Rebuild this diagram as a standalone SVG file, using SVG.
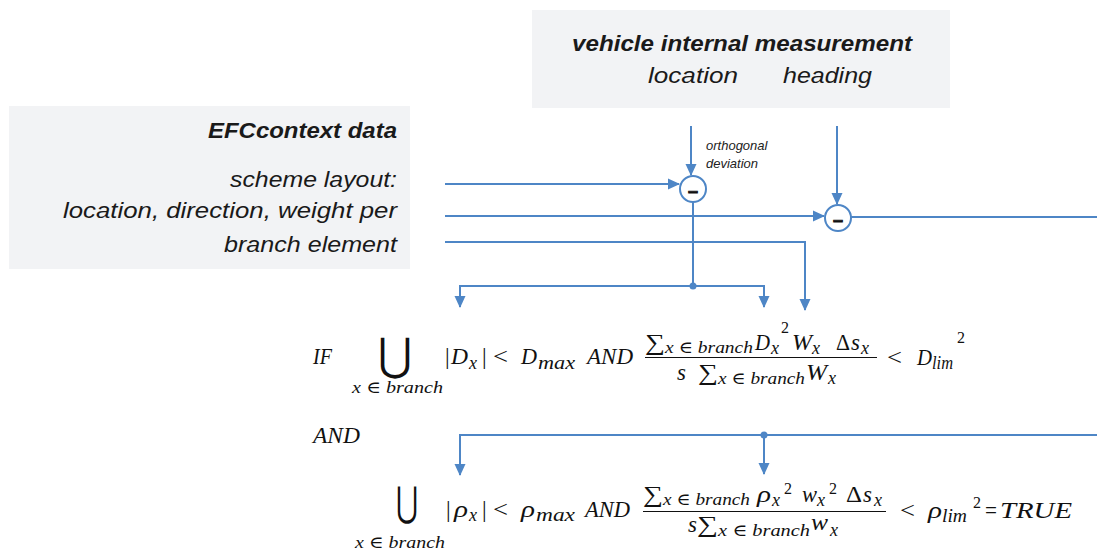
<svg xmlns="http://www.w3.org/2000/svg" width="1097" height="552" viewBox="0 0 1097 552">
  <style>
    .box { fill: #f2f3f5; stroke: none; }
    .lbl { font-family: "Liberation Sans", Arial, sans-serif; font-style: italic; fill: #1a1a1a; }
    .lbl-b { font-weight: bold; }
    .note { font-family: "Liberation Sans", Arial, sans-serif; font-style: italic; font-size: 13px; fill: #222; }
    .wire { fill: none; stroke: #4e86c6; stroke-width: 2; }
    .arr { marker-end: url(#head); }
    .node { fill: #ffffff; stroke: #4e86c6; stroke-width: 2; }
    .dot { fill: #4e86c6; }
    .minus { font-family: "Liberation Sans", Arial, sans-serif; font-weight: bold; font-size: 18px; fill: #111; stroke: #111; stroke-width: 0.9; text-anchor: middle; }
    .m { font-family: "Liberation Serif", "DejaVu Serif", serif; font-style: italic; font-size: 23px; fill: #111; }
    .s { font-size: 17px; }
    .t { font-size: 18px; }
    .p { font-size: 16px; }
    .up { font-style: normal; }
    .big { font-family: "DejaVu Serif", "DejaVu Sans", serif; font-style: normal; fill: #111; }
  </style>
  <defs>
    <marker id="head" markerUnits="userSpaceOnUse" markerWidth="12" markerHeight="12" viewBox="0 0 12 12" refX="11" refY="6" orient="auto">
      <path d="M0,0.5 L12,6 L0,11.5 Z" fill="#4e86c6"/>
    </marker>
  </defs>

  <!-- source blocks -->
  <g id="efc-context">
    <rect class="box" x="9" y="106" width="401" height="163"/>
    <text class="lbl lbl-b" x="208" y="138" font-size="22" textLength="189" lengthAdjust="spacingAndGlyphs">EFCcontext data</text>
    <text class="lbl" x="230" y="187" font-size="22" textLength="167" lengthAdjust="spacingAndGlyphs">scheme layout:</text>
    <text class="lbl" x="63" y="218" font-size="22" textLength="334" lengthAdjust="spacingAndGlyphs">location, direction, weight per</text>
    <text class="lbl" x="224" y="252" font-size="22" textLength="173" lengthAdjust="spacingAndGlyphs">branch element</text>
  </g>

  <g id="vehicle-measurement">
    <rect class="box" x="532" y="10" width="418" height="98"/>
    <text class="lbl lbl-b" x="572" y="51" font-size="22" textLength="340" lengthAdjust="spacingAndGlyphs">vehicle internal measurement</text>
    <text class="lbl" x="648" y="83" font-size="22" textLength="90" lengthAdjust="spacingAndGlyphs">location</text>
    <text class="lbl" x="783" y="83" font-size="22" textLength="89" lengthAdjust="spacingAndGlyphs">heading</text>
  </g>

  <!-- difference nodes -->
  <g id="diff-location">
    <circle class="node" cx="693" cy="189" r="13"/>
    <text class="minus" x="693" y="197">–</text>
  </g>
  <g id="diff-heading">
    <circle class="node" cx="838" cy="218" r="13"/>
    <text class="minus" x="838" y="226">–</text>
  </g>

  <g id="label-orthogonal">
    <text class="note" x="706" y="150">orthogonal</text>
    <text class="note" x="706" y="168">deviation</text>
  </g>

  <!-- connectors -->
  <g id="connectors">
    <path class="wire arr" d="M691,126 V175"/>
    <path class="wire arr" d="M837,126 V204"/>
    <path class="wire arr" d="M445,184 H679"/>
    <path class="wire arr" d="M445,216 H824"/>
    <path class="wire arr" d="M445,242 H805 V310"/>
    <path class="wire" d="M851,217 H1097"/>
    <path class="wire" d="M693,202 V286"/>
    <path class="wire arr" d="M693,286 H460 V307"/>
    <path class="wire arr" d="M693,286 H764 V307"/>
    <circle class="dot" cx="693" cy="286" r="3.5"/>
    <path class="wire arr" d="M1097,435 H460 V475"/>
    <path class="wire arr" d="M764,435 V474"/>
    <circle class="dot" cx="764" cy="435" r="3.5"/>
  </g>

  <!-- condition on orthogonal deviation D -->
  <g id="condition-deviation">
    <text class="m" x="313" y="364" textLength="19" lengthAdjust="spacingAndGlyphs">IF</text>
    <text class="big" x="378" y="370" font-size="45" textLength="34" lengthAdjust="spacingAndGlyphs">⋃</text>
    <text class="m s" x="352" y="393" textLength="91" lengthAdjust="spacingAndGlyphs">x ∈ branch</text>
    <text class="m up" x="445" y="364">|</text>
    <text class="m" x="451" y="364" textLength="17" lengthAdjust="spacingAndGlyphs">D</text>
    <text class="m t" x="469" y="369">x</text>
    <text class="m up" x="482" y="364">|</text>
    <text class="m up" x="493" y="364" textLength="15" lengthAdjust="spacingAndGlyphs">&lt;</text>
    <text class="m" x="521" y="364" textLength="16" lengthAdjust="spacingAndGlyphs">D</text>
    <text class="m t" x="538" y="369" textLength="37" lengthAdjust="spacingAndGlyphs">max</text>
    <text class="m" x="587" y="364" textLength="46" lengthAdjust="spacingAndGlyphs">AND</text>

    <text class="m up" x="645" y="350" textLength="20" lengthAdjust="spacingAndGlyphs">∑</text>
    <text class="m s" x="665" y="353" textLength="88" lengthAdjust="spacingAndGlyphs">x ∈ branch</text>
    <text class="m" x="755" y="350" textLength="15" lengthAdjust="spacingAndGlyphs">D</text>
    <text class="m t" x="771" y="354">x</text>
    <text class="m p up" x="781" y="333">2</text>
    <text class="m" x="792" y="350" textLength="20" lengthAdjust="spacingAndGlyphs">W</text>
    <text class="m t" x="812" y="354">x</text>
    <text class="m up" x="836" y="350" textLength="14" lengthAdjust="spacingAndGlyphs">Δ</text>
    <text class="m" x="851" y="350">s</text>
    <text class="m t" x="861" y="354">x</text>
    <path d="M645,357.5 H877" stroke="#111" stroke-width="1.2"/>
    <text class="m" x="677" y="380">s</text>
    <text class="m up" x="698" y="380" textLength="20" lengthAdjust="spacingAndGlyphs">∑</text>
    <text class="m s" x="718" y="384" textLength="87" lengthAdjust="spacingAndGlyphs">x ∈ branch</text>
    <text class="m" x="806" y="380" textLength="21" lengthAdjust="spacingAndGlyphs">W</text>
    <text class="m t" x="828" y="384">x</text>
    <text class="m up" x="887" y="365" textLength="15" lengthAdjust="spacingAndGlyphs">&lt;</text>
    <text class="m" x="917" y="365" textLength="15" lengthAdjust="spacingAndGlyphs">D</text>
    <text class="m t" x="932" y="369" textLength="21" lengthAdjust="spacingAndGlyphs">lim</text>
    <text class="m p up" x="957" y="343">2</text>
  </g>

  <!-- condition on heading deviation rho -->
  <g id="condition-heading">
    <text class="m" x="313" y="443" textLength="47" lengthAdjust="spacingAndGlyphs">AND</text>
    <text class="big" x="396" y="516" font-size="41" textLength="22" lengthAdjust="spacingAndGlyphs">⋃</text>
    <text class="m s" x="355" y="548" textLength="90" lengthAdjust="spacingAndGlyphs">x ∈ branch</text>
    <text class="m up" x="446" y="517">|</text>
    <text class="m" x="454" y="517" textLength="14" lengthAdjust="spacingAndGlyphs">ρ</text>
    <text class="m t" x="469" y="521">x</text>
    <text class="m up" x="482" y="517">|</text>
    <text class="m up" x="493" y="517" textLength="15" lengthAdjust="spacingAndGlyphs">&lt;</text>
    <text class="m" x="521" y="517" textLength="14" lengthAdjust="spacingAndGlyphs">ρ</text>
    <text class="m t" x="536" y="521" textLength="39" lengthAdjust="spacingAndGlyphs">max</text>
    <text class="m" x="585" y="517" textLength="45" lengthAdjust="spacingAndGlyphs">AND</text>

    <text class="m up" x="643" y="502" textLength="20" lengthAdjust="spacingAndGlyphs">∑</text>
    <text class="m s" x="663" y="505" textLength="87" lengthAdjust="spacingAndGlyphs">x ∈ branch</text>
    <text class="m" x="757" y="502" textLength="14" lengthAdjust="spacingAndGlyphs">ρ</text>
    <text class="m t" x="772" y="506">x</text>
    <text class="m p up" x="784" y="494">2</text>
    <text class="m" x="802" y="502" textLength="15" lengthAdjust="spacingAndGlyphs">w</text>
    <text class="m t" x="817" y="506">x</text>
    <text class="m p up" x="829" y="494">2</text>
    <text class="m up" x="846" y="502" textLength="16" lengthAdjust="spacingAndGlyphs">Δ</text>
    <text class="m" x="863" y="502">s</text>
    <text class="m t" x="874" y="506">x</text>
    <path d="M643,511.5 H886" stroke="#111" stroke-width="1.2"/>
    <text class="m" x="688" y="532">s</text>
    <text class="m up" x="697" y="532" textLength="21" lengthAdjust="spacingAndGlyphs">∑</text>
    <text class="m s" x="718" y="536" textLength="92" lengthAdjust="spacingAndGlyphs">x ∈ branch</text>
    <text class="m" x="811" y="530" textLength="17" lengthAdjust="spacingAndGlyphs">w</text>
    <text class="m t" x="830" y="536">x</text>
    <text class="m up" x="900" y="518" textLength="15" lengthAdjust="spacingAndGlyphs">&lt;</text>
    <text class="m" x="928" y="518" textLength="14" lengthAdjust="spacingAndGlyphs">ρ</text>
    <text class="m t" x="942" y="522" textLength="25" lengthAdjust="spacingAndGlyphs">lim</text>
    <text class="m p up" x="973" y="508">2</text>
    <text class="m up" x="985" y="518" textLength="12" lengthAdjust="spacingAndGlyphs">=</text>
    <text class="m" x="1000" y="518" textLength="72" lengthAdjust="spacingAndGlyphs">TRUE</text>
  </g>
</svg>
